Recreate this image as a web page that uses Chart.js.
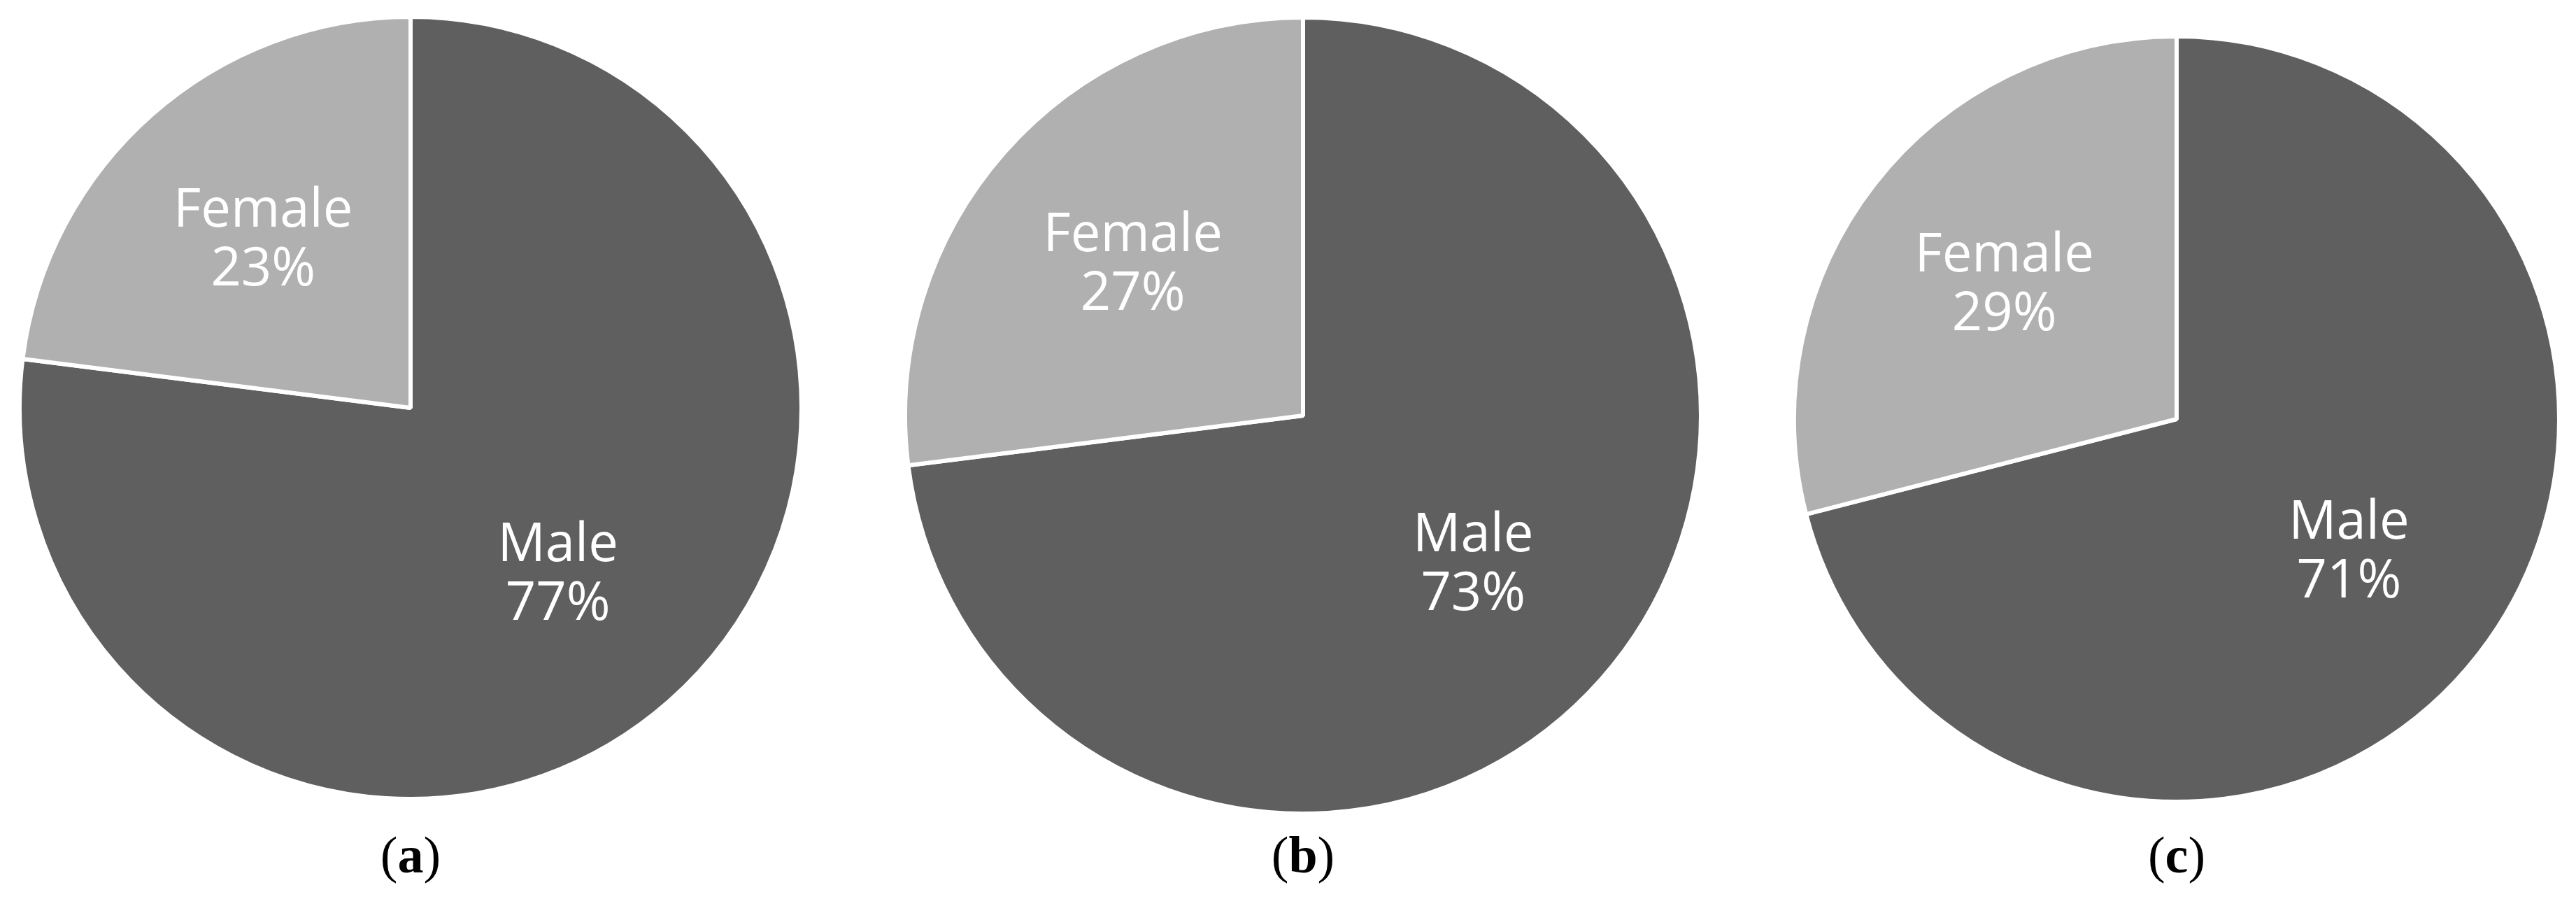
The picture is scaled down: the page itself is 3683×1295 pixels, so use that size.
<!DOCTYPE html>
<html><head><meta charset="utf-8">
<script src="https://cdn.jsdelivr.net/npm/chart.js@4"></script>
<style>
body{margin:0;background:#fff;width:3683px;height:1295px;position:relative;overflow:hidden}
canvas{position:absolute}
.cap{position:absolute;font-family:"Liberation Serif",serif;font-size:74px;transform:translateX(-50%)}
</style></head><body>
<canvas id="a"></canvas><canvas id="b"></canvas><canvas id="c"></canvas>
<div class="cap" style="left:587px;top:1180px">(<b>a</b>)</div>
<div class="cap" style="left:1863px;top:1180px">(<b>b</b>)</div>
<div class="cap" style="left:3112px;top:1180px">(<b>c</b>)</div>
<script>
const categories = ['Male', 'Female'];
const valuesA = [77, 23];
const valuesB = [73, 27];
const valuesC = [71, 29];

const labelPlugin = {
  id: 'sliceLabels',
  afterDatasetsDraw(chart) {
    const ctx = chart.ctx;
    const meta = chart.getDatasetMeta(0);
    const vals = chart.data.datasets[0].data;
    ctx.save();
    ctx.fillStyle = '#fff';
    ctx.font = '76px "Open Sans", sans-serif';
    ctx.textAlign = 'center';
    ctx.textBaseline = 'middle';
    meta.data.forEach((arc, i) => {
      const mid = (arc.startAngle + arc.endAngle) / 2;
      const r = arc.outerRadius * 0.57;
      const x = arc.x + Math.cos(mid) * r;
      const y = arc.y + Math.sin(mid) * r;
      ctx.fillText(chart.data.labels[i], x, y - 42);
      ctx.fillText(vals[i] + '%', x, y + 42);
    });
    ctx.restore();
  }
};

function makePie(id, data, cx, cy, r) {
  const el = document.getElementById(id);
  const s = 2 * r + 12;
  el.width = s; el.height = s;
  el.style.width = s + 'px'; el.style.height = s + 'px';
  el.style.left = (cx - s / 2) + 'px'; el.style.top = (cy - s / 2) + 'px';
  new Chart(el, {
    type: 'pie',
    data: {
      labels: categories,
      datasets: [{
        data: data,
        backgroundColor: ['#5f5f5f', '#b0b0b0'],
        borderColor: '#fff',
        borderWidth: 6
      }]
    },
    options: {
      responsive: false,
      animation: false,
      devicePixelRatio: 1,
      plugins: { legend: { display: false }, tooltip: { enabled: false } }
    },
    plugins: [labelPlugin]
  });
}

makePie('a', valuesA, 587, 583, 556);
makePie('b', valuesB, 1863, 594, 566);
makePie('c', valuesC, 3112, 599, 544);
</script>
</body></html>
